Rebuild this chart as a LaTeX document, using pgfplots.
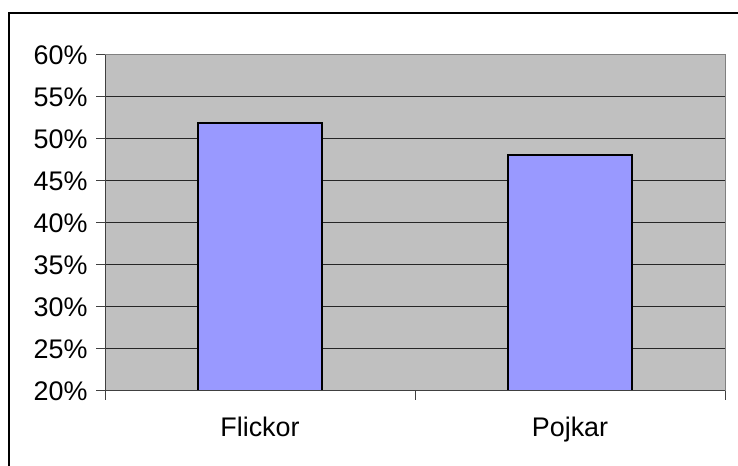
\documentclass[border=0pt]{standalone}
\usepackage{pgfplots}
\pgfplotsset{compat=1.18}
\usepackage{fontspec}
\setmainfont{Liberation Sans}
\definecolor{plotgray}{HTML}{C0C0C0}
\definecolor{barblue}{HTML}{9999FF}
\definecolor{bordgray}{HTML}{808080}
\begin{document}
\begin{tikzpicture}[x=1bp,y=1bp]
\useasboundingbox (0,0) rectangle (738,466);
\fill[white] (0,0) rectangle (738,466);
\begin{axis}[
  at={(105bp,75bp)}, anchor=south west,
  scale only axis, width=620bp, height=336bp,
  xmin=-0.5, xmax=1.5, ymin=20, ymax=60,
  ybar, bar width=124bp,
  axis background/.style={fill=plotgray},
  axis line style={bordgray, line width=1bp},
  xtick={-0.5,0.5,1.5}, xticklabels={},
  extra x ticks={0,1}, extra x tick labels={Flickor,Pojkar},
  extra x tick style={major tick length=0pt, tick label style={yshift=-22bp}},
  ytick={20,25,...,60},
  yticklabel={\pgfmathprintnumber{\tick}\%},
  extra y ticks={25,30,...,55}, extra y tick labels={},
  extra y tick style={ymajorgrids=true, major tick length=0pt},
  major grid style={black!85, line width=1bp},
  tick align=outside, major tick length=9bp,
  tick style={black!75, line width=1bp},
  xtick pos=bottom, ytick pos=left,
  /pgf/number format/assume math mode=true,
  tick label style={font=\fontsize{27}{31}\selectfont, black},
  yticklabel style={xshift=-5bp},
]
\addplot[fill=barblue, draw=black, line width=1.5bp] coordinates {(0,51.9) (1,48.1)};
\draw[black!75, line width=1.2bp] (rel axis cs:0,0) -- (rel axis cs:0,1);
\draw[black!75, line width=1.2bp] (rel axis cs:0,0) -- (rel axis cs:1,0);
\end{axis}
\draw[black, line width=2bp] (9,-2) -- (9,453) -- (740,453);
\end{tikzpicture}
\end{document}
